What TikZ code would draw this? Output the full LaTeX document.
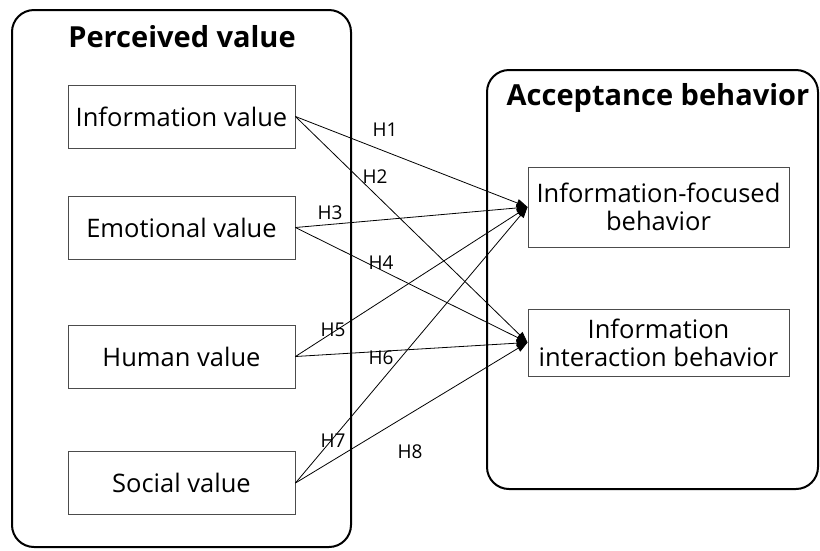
\documentclass[tikz,border=0pt]{standalone}
\usepackage{fontspec}
\setmainfont{Open Sans}
\usetikzlibrary{arrows.meta}
\begin{document}
\begin{tikzpicture}[x=1pt,y=-1pt,
  group/.style={draw=black, line width=2pt, rounded corners=22pt, inner sep=0pt},
  item/.style={draw=black!70, line width=0.9pt, inner sep=0pt, font=\fontsize{25.5}{28}\selectfont, align=center},
  lbox/.style={item, minimum width=227pt, minimum height=63pt},
  rbox/.style={item, minimum width=261pt},
  gtitle/.style={font=\bfseries\fontsize{29}{32}\selectfont, inner sep=0pt},
  hyp/.style={-{Triangle[length=11pt,width=8pt]}, line width=0.8pt},
  hlab/.style={font=\fontsize{19}{20}\selectfont, inner sep=0pt}]
\useasboundingbox (0,0) rectangle (820,550);
\node[group, minimum width=339pt, minimum height=537pt] (pv) at (181.5,278.5) {};
\node[group, minimum width=331pt, minimum height=419pt] (ab) at (652.5,279.5) {};
\node[gtitle] (pvt) at (182,37) {Perceived value};
\node[gtitle] (abt) at (658,98) {Acceptance behavior};
\node[lbox] (iv) at (181.5,116.5) {Information value};
\node[lbox] (ev) at (181.5,227.5) {Emotional value};
\node[lbox] (hv) at (181.5,356.5) {Human value};
\node[lbox] (sv) at (181.5,483) {Social value};
\node[rbox, minimum height=80pt] (ifb) at (658.5,207) {Information-focused\\behavior};
\node[rbox, minimum height=67pt] (iib) at (658.5,342.5) {Information\\interaction behavior};
\draw[hyp] (iv.east) -- (ifb.west);
\draw[hyp] (iv.east) -- (iib.west);
\draw[hyp] (ev.east) -- (ifb.west);
\draw[hyp] (ev.east) -- (iib.west);
\draw[hyp] (hv.east) -- (ifb.west);
\draw[hyp] (hv.east) -- (iib.west);
\draw[hyp] (sv.east) -- (ifb.west);
\draw[hyp] (sv.east) -- (iib.west);
\node[hlab] (h1) at (385,130) {H1};
\node[hlab] (h2) at (375,177) {H2};
\node[hlab] (h3) at (330,213) {H3};
\node[hlab] (h4) at (381,263) {H4};
\node[hlab] (h5) at (333,330) {H5};
\node[hlab] (h6) at (381,358) {H6};
\node[hlab] (h7) at (333,441) {H7};
\node[hlab] (h8) at (410,452) {H8};
\end{tikzpicture}
\end{document}
